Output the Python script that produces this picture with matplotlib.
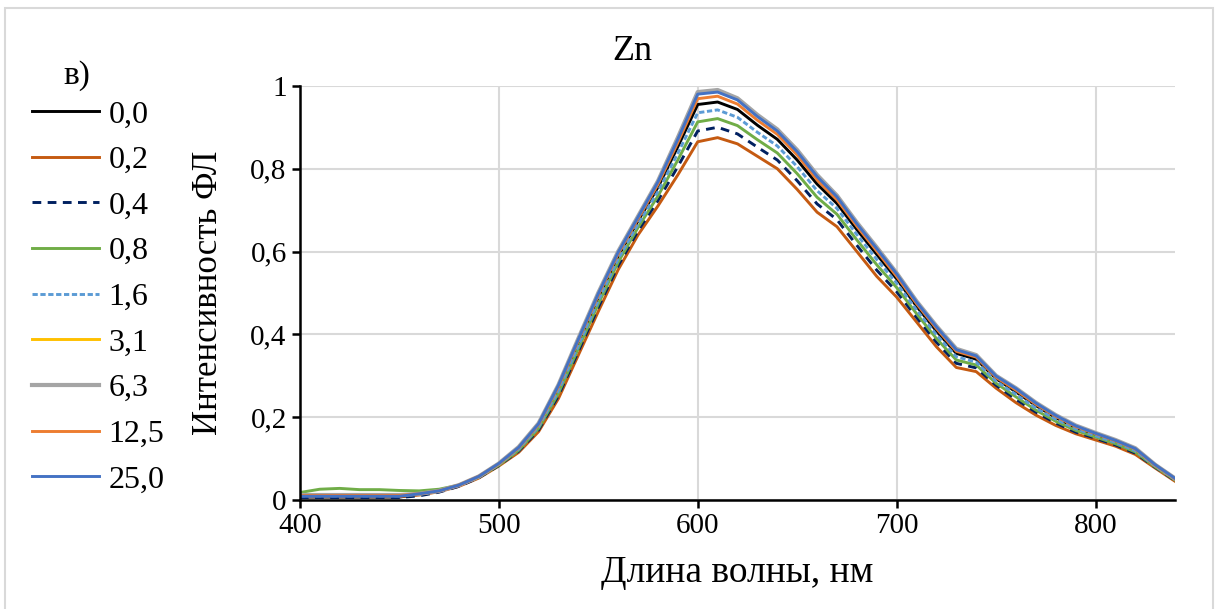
import matplotlib
matplotlib.use("Agg")
import matplotlib.pyplot as plt
from matplotlib.patches import Rectangle
from matplotlib.ticker import FuncFormatter

plt.rcParams['font.family'] = ['Liberation Serif', 'DejaVu Serif']

# длины волн, нм
wl = [400, 410, 420, 430, 440, 450, 460, 470, 480, 490,
      500, 510, 520, 530, 540, 550, 560, 570, 580, 590,
      600, 610, 620, 630, 640, 650, 660, 670, 680, 690,
      700, 710, 720, 730, 740, 750, 760, 770, 780, 790,
      800, 810, 820, 830, 840]

# интенсивность ФЛ для каждой концентрации
s_00 = [.007, .007, .007, .007, .007, .007, .014, .022, .035, .056,
        .087, .125, .180, .270, .380, .489, .589, .674, .755, .853,
        .955, .961, .943, .905, .871, .821, .763, .716, .653, .593,
        .534, .468, .408, .354, .340, .293, .261, .228, .199, .175,
        .158, .141, .121, .083, .050]
s_02 = [.008, .008, .008, .008, .008, .008, .012, .020, .033, .053,
        .082, .115, .165, .245, .350, .455, .556, .640, .710, .785,
        .865, .875, .860, .830, .800, .750, .695, .660, .600, .540,
        .490, .430, .370, .320, .310, .270, .235, .205, .180, .160,
        .145, .130, .110, .077, .045]
s_04 = [.006, .006, .006, .006, .006, .006, .010, .019, .033, .054,
        .083, .118, .169, .252, .359, .465, .566, .650, .723, .805,
        .891, .900, .884, .852, .821, .771, .715, .677, .615, .555,
        .503, .441, .381, .330, .319, .277, .243, .212, .186, .164,
        .149, .133, .113, .079, .047]
s_08 = [.018, .026, .028, .025, .025, .023, .022, .026, .036, .055,
        .084, .120, .173, .258, .366, .473, .574, .658, .734, .821,
        .913, .921, .904, .870, .838, .788, .731, .690, .628, .568,
        .513, .450, .390, .338, .326, .282, .249, .217, .190, .168,
        .152, .136, .116, .080, .048]
s_16 = [.010, .010, .010, .010, .010, .010, .014, .021, .035, .055,
        .086, .123, .177, .264, .373, .481, .582, .666, .745, .837,
        .935, .942, .924, .888, .855, .805, .747, .704, .641, .581,
        .524, .459, .399, .346, .333, .287, .255, .222, .195, .172,
        .155, .139, .119, .082, .049]
s_31 = [.011, .011, .011, .011, .011, .011, .015, .022, .036, .057,
        .088, .127, .184, .277, .389, .499, .599, .684, .769, .874,
        .983, .989, .968, .928, .893, .843, .783, .733, .669, .609,
        .547, .479, .419, .364, .349, .299, .269, .234, .204, .179,
        .161, .144, .124, .085, .052]
s_63 = [.012, .012, .012, .012, .012, .012, .015, .022, .036, .057,
        .088, .128, .185, .278, .390, .500, .600, .685, .770, .875,
        .985, .990, .970, .930, .895, .845, .785, .735, .670, .610,
        .548, .480, .420, .365, .350, .300, .270, .235, .205, .180,
        .162, .145, .125, .085, .052]
s_125 = [.011, .011, .011, .011, .011, .011, .015, .022, .036, .057,
         .087, .126, .182, .274, .385, .494, .594, .679, .762, .863,
         .969, .975, .956, .917, .883, .833, .773, .725, .661, .601,
         .540, .474, .414, .359, .345, .296, .265, .231, .202, .177,
         .160, .143, .123, .084, .051]
s_250 = [.009, .009, .009, .009, .009, .009, .015, .022, .036, .057,
         .088, .127, .184, .277, .388, .498, .598, .683, .768, .871,
         .980, .985, .966, .926, .891, .841, .781, .732, .667, .607,
         .546, .478, .418, .363, .348, .299, .269, .234, .204, .179,
         .161, .144, .124, .085, .052]

labels = ['0,0', '0,2', '0,4', '0,8', '1,6', '3,1', '6,3', '12,5', '25,0']
series = [s_00, s_02, s_04, s_08, s_16, s_31, s_63, s_125, s_250]
colors = ['#000000', '#C55A11', '#002060', '#70AD47', '#5B9BD5',
          '#FFC000', '#A5A5A5', '#ED7D31', '#4472C4']
styles = ['-', '-', (0, (3, 2.2)), '-', (0, (1.8, 0.9)), '-', '-', '-', '-']
widths = [2.1, 2.1, 2.1, 2.1, 2.1, 2.1, 3.0, 2.1, 2.1]

fig = plt.figure(figsize=(12.19, 6.09), dpi=100)
ax = fig.add_axes([0.246, 0.179, 0.718, 0.680])

for y, lab, c, ls, lw in zip(series, labels, colors, styles, widths):
    ax.plot(wl, y, color=c, linestyle=ls, linewidth=lw, label=lab)

ax.set_xlim(400, 840)
ax.set_ylim(0, 1)
ax.set_xticks([400, 500, 600, 700, 800])
ax.set_yticks([0, 0.2, 0.4, 0.6, 0.8, 1.0])
ax.yaxis.set_major_formatter(FuncFormatter(
    lambda v, p: '0' if v == 0 else ('1' if v == 1 else f'{v:.1f}'.replace('.', ','))))
ax.grid(True, color='#D9D9D9', linewidth=1.5)
ax.set_axisbelow(True)
for s in ['top', 'right']:
    ax.spines[s].set_visible(False)
for s in ['left', 'bottom']:
    ax.spines[s].set_linewidth(1.8)
ax.tick_params(axis='both', labelsize=21, width=1.8, length=6, direction='out')

ax.set_xlabel('Длина волны, нм', fontsize=27, labelpad=12)
ax.set_ylabel('Интенсивность ФЛ', fontsize=25, labelpad=18)
fig.text(632 / 1219, 1 - 52 / 609, 'Zn', fontsize=26, ha='center', va='center')

leg = ax.legend(loc='upper left', bbox_to_anchor=(32 / 1219, 1 - 100 / 609),
                bbox_transform=fig.transFigure, frameon=False, fontsize=23,
                handlelength=2.1, handletextpad=0.3, labelspacing=0.51,
                borderpad=0, borderaxespad=0)
fig.text(77 / 1219, 1 - 76 / 609, 'в)', fontsize=24, ha='center', va='center')

fig.patches.append(Rectangle((5 / 1219, -0.02), 1208 / 1219, 1 - 8 / 609 + 0.02,
                             transform=fig.transFigure, fill=False,
                             edgecolor='#D9D9D9', linewidth=1.5))

fig.savefig('out.png', dpi=100)
